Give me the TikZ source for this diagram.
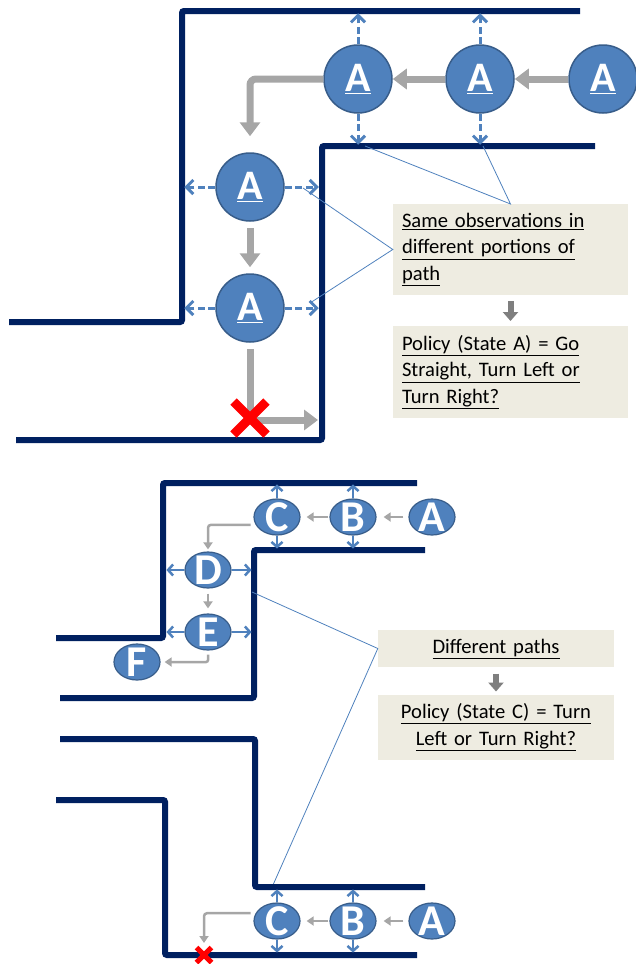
\documentclass[tikz,border=0pt]{standalone}
\usepackage{fontspec}
\setmainfont{Carlito}
\usepackage{tikz}
\usetikzlibrary{shapes.geometric, shapes.misc, arrows.meta, positioning, calc}
\definecolor{wallblue}{RGB}{0,32,96}
\definecolor{stateblue}{RGB}{79,129,189}
\definecolor{stateedge}{RGB}{56,93,138}
\definecolor{flowgray}{RGB}{166,166,166}
\definecolor{notegray}{RGB}{127,127,127}
\definecolor{notefill}{RGB}{238,236,225}
\tikzset{
  wall/.style={line width=6pt, color=wallblue, rounded corners=2pt},
  note/.style={rectangle, fill=notefill, minimum width=235pt, text width=217pt, inner sep=9pt,
    font=\fontsize{20.6}{26.5}\selectfont},
  sense/.style={-{Straight Barb[length=7pt,width=14pt]}, line width=3pt, color=stateblue,
    dash pattern=on 7pt off 3.5pt},
  flow/.style={-{Triangle[length=14pt,width=20pt]}, line width=7pt, color=flowgray},
  callout/.style={line width=0.8pt, color=stateblue}
}

\begin{document}
\begin{tikzpicture}[x=1pt, y=-1pt,
  stateA/.style={circle, draw=stateedge, line width=1.5pt, fill=stateblue, minimum size=68pt, inner sep=0pt,
    text=white, font=\fontsize{42}{42}\selectfont\bfseries},
  stateS/.style={ellipse, draw=stateedge, line width=1.2pt, fill=stateblue, minimum width=46pt, minimum height=36pt,
    inner sep=0pt},
  letter/.style={text=white, inner sep=0pt, font=\fontsize{44}{44}\selectfont\bfseries},
  sensesmall/.style={-{Straight Barb[length=5pt,width=11pt]}, line width=2.5pt, color=stateblue},
  flowthin/.style={-{Triangle[length=7pt,width=9pt]}, line width=2.5pt, color=flowgray},
  pointer/.style={-{Triangle[length=9pt,width=15pt]}, line width=6pt, color=notegray},
  crash/.style={cross out, draw=red, inner sep=0pt}
]
\useasboundingbox (0,0) rectangle (636,964);

\draw[wall] (580,11) -- (182,11) -- (182,322) -- (9,322);
\draw[wall] (595,146) -- (322,146) -- (322,440) -- (16,440);
\foreach \n/\x/\y in {a1/358/79, a2/480/79, a3/603/79, a4/250/187, a5/250/308}
  \node[stateA] (\n) at (\x,\y) {\underline{A}};
\foreach \n in {a1,a2} {
  \draw[sense] (\n.north) -- ++(0,-31);
  \draw[sense] (\n.south) -- ++(0,31);
}
\foreach \n in {a4,a5} {
  \draw[sense] (\n.west) -- ++(-31,0);
  \draw[sense] (\n.east) -- ++(34,0);
}
\draw[flow] (a3) -- (a2);
\draw[flow] (a2) -- (a1);
\draw[flow, rounded corners=6pt, shorten >=16pt] (a1.west) -| (a4.north);
\draw[flow, shorten <=6pt, shorten >=6pt] (a4) -- (a5);
\coordinate (dead1) at (318,420);
\draw[flow, shorten <=6pt] (a5) |- (dead1);
\node[crash, line width=9pt, minimum size=24pt] (crash1) at (250,418) {};

\node[note, minimum height=85pt, align=left] (box1) at (510.5,249.5)
  {\underline{Same observations in}\\\underline{different portions of}\\\underline{path}};
\node[note, minimum height=85pt, align=left, below=31pt of box1] (box2)
  {\underline{Policy (State A) = Go}\\\underline{Straight, Turn Left or}\\\underline{Turn Right?}};
\draw[pointer, shorten <=6pt, shorten >=5pt] (box1) -- (box2);
\coordinate (seen1) at (365,146);
\coordinate (seen2) at (483,146);
\coordinate (seen3) at (303,188);
\coordinate (seen4) at (310,303);
\draw[callout] (seen1) -- (box1.north) -- (seen2);
\draw[callout] (seen3) -- (box1.west) -- (seen4);

\draw[wall] (417,483) -- (163,483) -- (163,638) -- (56,638);
\draw[wall] (425,550) -- (254,550) -- (254,698) -- (60,698);
\foreach \n/\x/\y/\t in {uc/277/517/C, ub/353/517/B, ua/432/517/A, ud/208/570/D, ue/208/632/E, uf/137/662/F}
  \node[stateS, label={[letter]center:\t}] (\n) at (\x,\y) {};
\foreach \n in {uc,ub} {
  \draw[sensesmall] (\n.north) -- ++(0,-14);
  \draw[sensesmall] (\n.south) -- ++(0,13);
}
\foreach \n in {ud,ue} {
  \draw[sensesmall] (\n.west) -- ++(-18,0);
  \draw[sensesmall] (\n.east) -- ++(20,0);
}
\draw[flowthin, shorten <=5pt, shorten >=7pt] (ua) -- (ub);
\draw[flowthin, shorten <=1pt, shorten >=6pt] (ub) -- (uc);
\draw[flowthin, rounded corners=3pt, shorten <=5pt, shorten >=2pt] (uc.200) -| (ud.north);
\draw[flowthin, shorten <=5pt, shorten >=5pt] (ud) -- (ue);
\draw[flowthin, rounded corners=2pt, shorten <=4pt, shorten >=4pt] (ue.south) |- (uf.east);

\node[note, minimum width=236pt, minimum height=33pt, align=center] (box3) at (496,648.5)
  {\underline{Different paths}};
\node[note, minimum width=236pt, minimum height=60pt, align=center, below=27pt of box3] (box4)
  {\underline{Policy (State C) = Turn}\\\underline{Left or Turn Right?}};
\draw[pointer, shorten <=6pt, shorten >=3pt] (box3) -- (box4);
\coordinate (seen5) at (252,592);
\coordinate (seen6) at (273,885);
\draw[callout] (seen5) -- (box3.west) -- (seen6);

\draw[wall] (60,739) -- (255,739) -- (255,887) -- (425,887);
\draw[wall] (56,800) -- (165,800) -- (165,955) -- (417,955);
\foreach \n/\x/\t in {lc/277/C, lb/353/B, la/432/A}
  \node[stateS, label={[letter]center:\t}] (\n) at (\x,921) {};
\foreach \n in {lc,lb} {
  \draw[sensesmall] (\n.north) -- ++(0,-13);
  \draw[sensesmall] (\n.south) -- ++(0,13);
}
\draw[flowthin, shorten <=5pt, shorten >=7pt] (la) -- (lb);
\draw[flowthin, shorten <=1pt, shorten >=6pt] (lb) -- (lc);
\coordinate (dead2) at (204,943);
\draw[flowthin, rounded corners=3pt, shorten <=5pt] (lc.160) -| (dead2);
\node[crash, line width=5pt, minimum size=10pt] (crash2) at (204,955) {};
\end{tikzpicture}
\end{document}
